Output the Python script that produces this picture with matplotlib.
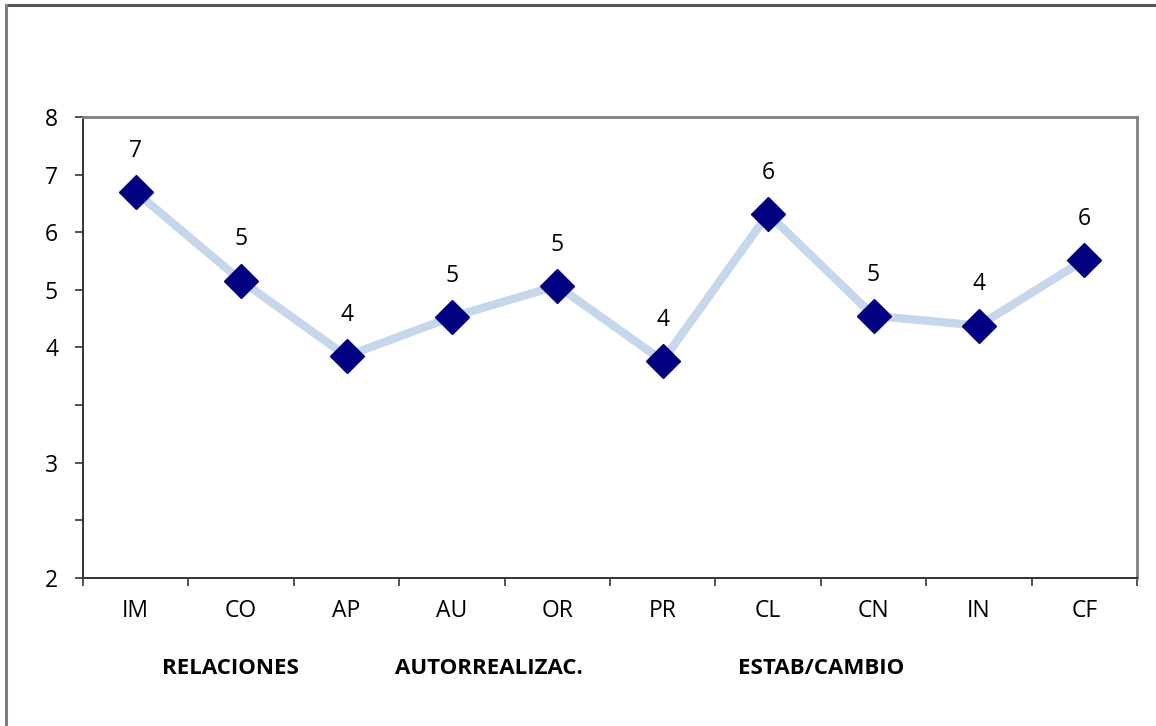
import numpy as np
import matplotlib.pyplot as plt
from matplotlib.lines import Line2D

plt.rcParams['font.family'] = ['Open Sans', 'DejaVu Sans']

escalas = ['IM', 'CO', 'AP', 'AU', 'OR', 'PR', 'CL', 'CN', 'IN', 'CF']
puntajes = [6.70, 5.16, 3.85, 4.53, 5.07, 3.77, 6.32, 4.55, 4.38, 5.52]
etiquetas_y = ['2', '', '3', '', '4', '5', '6', '7', '8']
grupos = ['RELACIONES', 'AUTORREALIZAC.', 'ESTAB/CAMBIO']
centro_grupos = [0.9, 3.35, 6.5]

fig = plt.figure(figsize=(11.56, 7.26), dpi=100)
ax = fig.add_axes([0.0718, 0.2039, 0.9118, 0.6349])

x = np.arange(len(escalas))
ax.plot(x, puntajes, color='#c6d7eb', linewidth=6, zorder=2)
ax.plot(x, puntajes, linestyle='none', marker='D', markersize=17.5,
        color='#000080', zorder=3)
for xi, v in zip(x, puntajes):
    ax.annotate(f'{v:.0f}', (xi, v), xytext=(0, 21), textcoords='offset points',
                ha='center', va='bottom', fontsize=16.5)

ax.set_xlim(-0.5, 9.5)
ax.set_ylim(0, 8)
ax.set_xticks(x)
ax.set_xticklabels(escalas, fontsize=16.5)
ax.set_xticks(np.arange(-0.5, 10, 1), minor=True)
ax.tick_params(axis='x', which='major', length=0, pad=15)
ax.tick_params(axis='x', which='minor', length=6, width=1.2, color='#333333')
ax.set_yticks(range(9))
ax.set_yticklabels(etiquetas_y, fontsize=16.5)
ax.tick_params(axis='y', length=6, width=1.2, color='#333333', pad=12)

for lado in ['left', 'bottom']:
    ax.spines[lado].set_color('#333333')
    ax.spines[lado].set_linewidth(1.4)
for lado in ['top', 'right']:
    ax.spines[lado].set_color('#808080')
    ax.spines[lado].set_linewidth(2)

for nombre, cx in zip(grupos, centro_grupos):
    ax.text(cx, -1.57, nombre, ha='center', va='center', fontsize=16,
            fontweight='bold', transform=ax.transData)

# marco exterior del gráfico
fig.add_artist(Line2D([0.0052, 1.0], [0.9925, 0.9925], color='#555555', linewidth=2.2))
fig.add_artist(Line2D([0.0052, 0.0052], [0.0, 0.9925], color='#808080', linewidth=2.2))

fig.savefig('out.png', dpi=100)
